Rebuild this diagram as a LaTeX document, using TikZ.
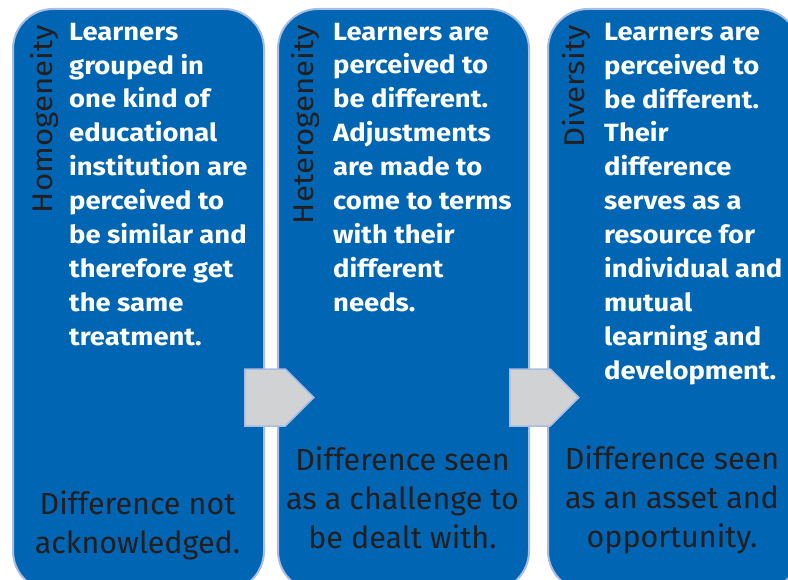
\documentclass[tikz,border=0pt]{standalone}
\usepackage{fontspec}
\setmainfont{Fira Sans}
\newfontfamily\widesans[FakeStretch=1.1]{Fira Sans}
\usetikzlibrary{shapes.symbols}
\definecolor{boxblue}{RGB}{0,102,179}
\definecolor{edgeblue}{RGB}{169,188,228}
\definecolor{arrgray}{RGB}{209,210,212}
\definecolor{darktext}{RGB}{35,31,32}
\tikzset{
  stage/.style={draw=edgeblue,line width=2bp,fill=boxblue,rounded corners=40bp,
    anchor=north west,minimum width=251bp,minimum height=582bp,inner sep=0pt},
  shift arrow/.style={signal,signal to=east,draw=edgeblue,line width=1.5bp,fill=arrgray,
    anchor=west,minimum width=69bp,minimum height=57bp,inner sep=0pt},
  title/.style={rotate=90,anchor=base east,inner sep=0pt,text=darktext,
    font=\widesans\fontsize{28.5}{30}\selectfont},
  idea/.style={anchor=base west,align=left,inner sep=0pt,text=white,
    font=\widesans\bfseries\fontsize{25}{34}\selectfont},
  verdict/.style={anchor=base,align=center,inner sep=0pt,text=darktext,
    font=\fontsize{30.6}{39}\selectfont}
}
\begin{document}
\begin{tikzpicture}[x=1bp,y=-1bp]
   \path[use as bounding box,clip] (0,0) rectangle (788,580);
   % the three stages
   \node[stage] (homog) at (12,8) {};
   \node[stage] (heterog) at (277,8) {};
   \node[stage] (divers) at (547,8) {};
   % arrows between stages
   \node[shift arrow] (arr1) at (244,397.5) {};
   \node[shift arrow] (arr2) at (509,397.5) {};
   % vertical titles
   \node[title] (homogT) at (52,25) {Homogeneity};
   \node[title] (heterogT) at (313,25) {Heterogeneity};
   \node[title] (diversT) at (584,25) {Diversity};
   % what is done (placed at the last baseline)
   \node[idea] (homogI) at (69,345) {Learners\\grouped in\\one kind of\\educational\\institution are\\perceived to\\be similar and\\therefore get\\the same\\treatment.};
   \node[idea] (heterogI) at (333,311) {Learners are\\perceived to\\be different.\\Adjustments\\are made to\\come to terms\\with their\\different\\needs.};
   \node[idea] (diversI) at (604,379) {Learners are\\perceived to\\be different.\\Their\\difference\\serves as a\\resource for\\individual and\\mutual\\learning and\\development.};
   % how difference is seen
   \node[verdict] (homogV) at (137.5,553) {Difference not\\acknowledged.};
   \node[verdict] (heterogV) at (402.5,548) {Difference seen\\as a challenge to\\be dealt with.};
   \node[verdict] (diversV) at (672,547) {Difference seen\\as an asset and\\opportunity.};
\end{tikzpicture}
\end{document}
